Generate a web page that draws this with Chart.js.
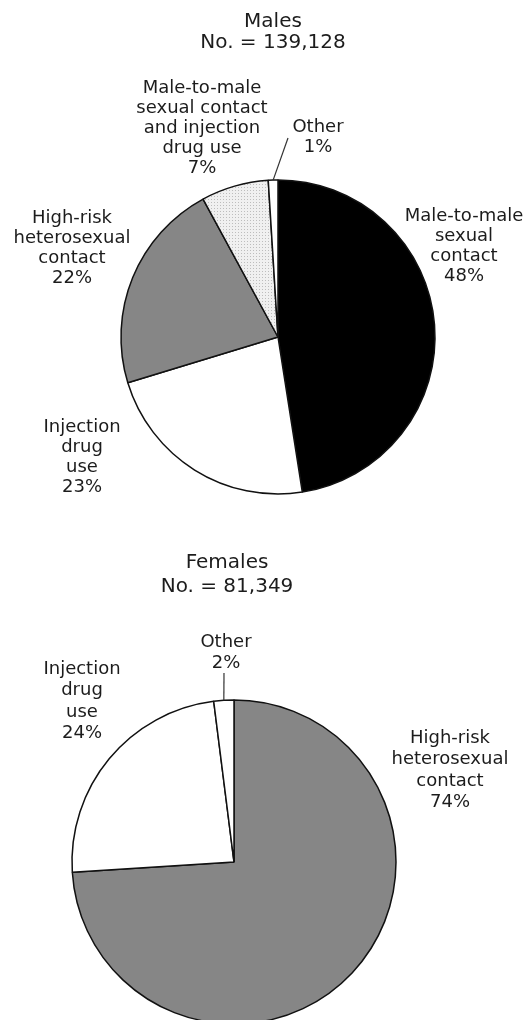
<!DOCTYPE html>
<html>
<head>
<meta charset="utf-8">
<script src="https://cdn.jsdelivr.net/npm/chart.js@4"></script>
<style>
  html, body { margin: 0; padding: 0; background: #fff; overflow: hidden; }
  canvas { display: block; }
</style>
</head>
<body>
<canvas id="malesChart" width="527" height="520"></canvas>
<canvas id="femalesChart" width="527" height="520"></canvas>
<script>
// data
var maleTitle = ['Males', 'No. = 139,128'];
var maleCategories = ['Male-to-male sexual contact', 'Injection drug use', 'High-risk heterosexual contact',
    'Male-to-male sexual contact and injection drug use', 'Other'];
var maleValues = [48, 23, 22, 7, 1];
var maleLabelLines = [
    ['Male-to-male', 'sexual', 'contact'],
    ['Injection', 'drug', 'use'],
    ['High-risk', 'heterosexual', 'contact'],
    ['Male-to-male', 'sexual contact', 'and injection', 'drug use'],
    ['Other']
];

var femaleTitle = ['Females', 'No. = 81,349'];
var femaleCategories = ['High-risk heterosexual contact', 'Injection drug use', 'Other'];
var femaleValues = [74, 24, 2];
var femaleLabelLines = [
    ['High-risk', 'heterosexual', 'contact'],
    ['Injection', 'drug', 'use'],
    ['Other']
];

var textColor = '#1c1c1c';

// light dotted fill for the MSM + IDU slice
function dotPattern() {
    var c = document.createElement('canvas');
    c.width = 3; c.height = 3;
    var g = c.getContext('2d');
    g.fillStyle = '#f0f0f0';
    g.fillRect(0, 0, 3, 3);
    g.fillStyle = '#bdbdbd';
    g.fillRect(1, 1, 1, 1);
    return g.createPattern(c, 'repeat');
}

// titles, slice labels and leader lines, placed relative to the pie centre
var sliceLabels = {
    id: 'sliceLabels',
    afterDraw: function (chart, args, opts) {
        var ctx = chart.ctx;
        var arcs = chart.getDatasetMeta(0).data;
        var cx = arcs[0].x, cy = arcs[0].y, r = arcs[0].outerRadius;
        var values = chart.data.datasets[0].data;
        ctx.save();
        ctx.fillStyle = textColor;
        ctx.textAlign = 'center';
        ctx.textBaseline = 'middle';

        ctx.font = '20px "DejaVu Sans"';
        opts.title.forEach(function (t, i) {
            ctx.fillText(t, cx + opts.titleAt[0], cy + opts.titleAt[1] + i * opts.titleGap);
        });

        ctx.font = '18px "DejaVu Sans"';
        opts.lines.forEach(function (lines, k) {
            var all = lines.concat(values[k] + '%');
            all.forEach(function (t, i) {
                ctx.fillText(t, cx + opts.at[k][0], cy + opts.at[k][1] + i * opts.gap);
            });
        });

        if (opts.leader) {
            var a = arcs[opts.leader.index];
            var mid = (a.startAngle + a.endAngle) / 2;
            ctx.strokeStyle = '#333';
            ctx.lineWidth = 1.2;
            ctx.beginPath();
            ctx.moveTo(cx + opts.leader.from[0], cy + opts.leader.from[1]);
            ctx.lineTo(cx + Math.cos(mid) * r, cy + Math.sin(mid) * r);
            ctx.stroke();
        }
        ctx.restore();
    }
};

var maleChart = new Chart(document.getElementById('malesChart'), {
    type: 'pie',
    data: {
        labels: maleCategories,
        datasets: [{
            data: maleValues,
            backgroundColor: ['#000000', '#ffffff', '#868686', dotPattern(), '#ffffff'],
            borderColor: '#111',
            borderWidth: 1.5
        }]
    },
    options: {
        responsive: false,
        animation: false,
        radius: 157,
        layout: { padding: { left: 121, right: 92, top: 180, bottom: 26 } },
        plugins: {
            legend: { display: false },
            tooltip: { enabled: false },
            sliceLabels: {
                title: maleTitle, titleAt: [-5, -315], titleGap: 21,
                lines: maleLabelLines, gap: 20,
                at: [[186, -121], [-196, 90], [-206, -119], [-76, -249], [40, -210]],
                leader: { index: 4, from: [10, -199] }
            }
        }
    },
    plugins: [sliceLabels]
});

var femaleChart = new Chart(document.getElementById('femalesChart'), {
    type: 'pie',
    data: {
        labels: femaleCategories,
        datasets: [{
            data: femaleValues,
            backgroundColor: ['#868686', '#ffffff', '#ffffff'],
            borderColor: '#111',
            borderWidth: 1.5
        }]
    },
    options: {
        responsive: false,
        animation: false,
        radius: 162,
        layout: { padding: { left: 72, right: 131, top: 180, bottom: 16 } },
        plugins: {
            legend: { display: false },
            tooltip: { enabled: false },
            sliceLabels: {
                title: femaleTitle, titleAt: [-7, -299], titleGap: 24,
                lines: femaleLabelLines, gap: 21.5,
                at: [[216, -124], [-152, -193], [-8, -220]],
                leader: { index: 2, from: [-10, -189] }
            }
        }
    },
    plugins: [sliceLabels]
});
</script>
</body>
</html>
